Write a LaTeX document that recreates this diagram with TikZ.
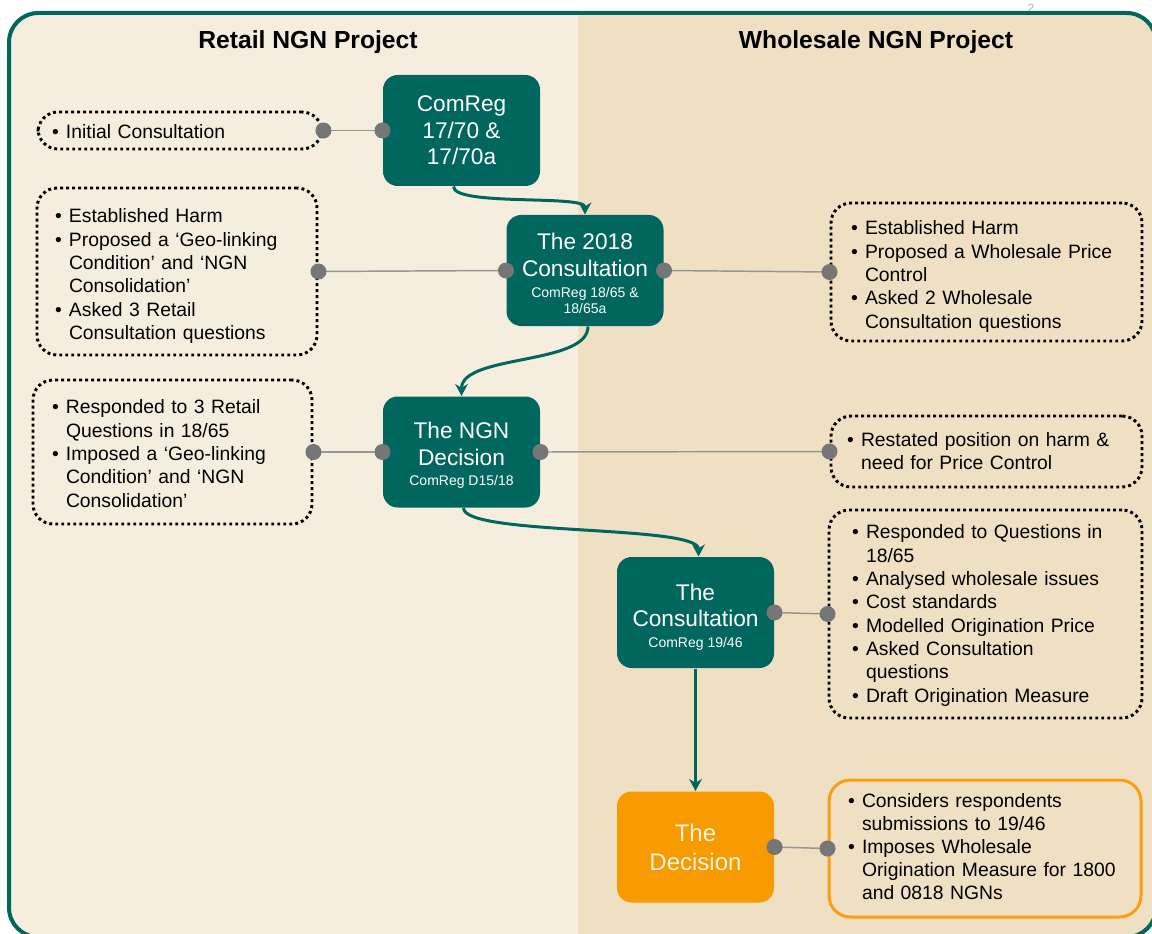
\documentclass[tikz,border=0pt]{standalone}
\usepackage{fontspec}
\setmainfont{Liberation Sans}
\usetikzlibrary{arrows.meta,calc}

\definecolor{comregteal}{RGB}{0,102,94}
\definecolor{decorange}{RGB}{247,155,0}
\definecolor{decwhite}{RGB}{255,243,225}
\definecolor{noteorange}{RGB}{247,160,20}
\definecolor{retailbg}{RGB}{245,238,223}
\definecolor{wholesalebg}{RGB}{239,224,195}
\definecolor{knobgray}{RGB}{118,118,118}
\definecolor{linkgray}{RGB}{150,150,150}

\newcommand{\headfont}{\fontsize{18.5pt}{22pt}\selectfont\bfseries}
\newcommand{\notefont}{\fontsize{14.5pt}{17.5pt}\selectfont}
\newcommand{\bigfont}{\fontsize{17pt}{20pt}\selectfont}
\newcommand{\decfont}{\fontsize{18pt}{21.75pt}\selectfont}
\newcommand{\subfont}{\fontsize{10.5pt}{12.75pt}\selectfont}
\newcommand{\itm}{\par\hangindent=10.5pt\hangafter=1\noindent\makebox[10.5pt][l]{\textbullet}}
\newcommand{\noteend}[1]{\par\kern#1}
\newcommand{\topgap}[1]{\rule{0pt}{#1}}

\tikzset{every picture/.style={line width=0.75pt}}
\tikzset{
  stagebox/.style={fill=comregteal, text=white, rounded corners=11pt, minimum width=117.75pt, minimum height=83.25pt, align=center, inner sep=0pt, font=\bigfont},
  finalbox/.style={stagebox, fill=decorange, text=decwhite, font=\decfont},
  notebox/.style={draw=black, line width=2.2pt, dash pattern=on 2.2pt off 2.3pt, rounded corners=15pt, font=\notefont, align=left, inner ysep=0pt},
  finalnote/.style={notebox, draw=noteorange, line width=2.25pt, solid, rounded corners=16pt},
  link/.style={draw=linkgray, line width=1.1pt},
  knob/.style={fill=knobgray},
  flow/.style={draw=comregteal, line width=2.25pt, -{Stealth[length=9pt,width=9.5pt]}},
  head/.style={font=\headfont},
  pagenum/.style={font=\fontsize{9pt}{10pt}\selectfont, text=gray!60, inner sep=0pt}
}

\begin{document}
\begin{tikzpicture}[x=0.75pt,y=0.75pt,yscale=-1,xscale=1]
\useasboundingbox (0,0) rectangle (1152,934);

% Page number
\node[pagenum] (pgnum) at (1031,8) {2};

%Shape: Backgrounds
\begin{scope}
\clip[rounded corners=22pt] (9,13) rectangle (1156,937);
\fill[retailbg] (0,0) rectangle (578,940);
\fill[wholesalebg] (578,0) rectangle (1160,940);
\end{scope}
%Shape: Frame
\draw[comregteal, line width=3pt, rounded corners=22pt] (9,13) rectangle (1156,937);

% Text Node
\node[head] (retail) at (308,42.5) {Retail NGN Project};
% Text Node
\node[head] (wholesale) at (876,42.5) {Wholesale NGN Project};

%Shape: Stages
\node[stagebox] (cr1770) at (461.5,130.5) {ComReg\\17/70 \&\\17/70a};
\node[stagebox] (cons2018) at (585,270.5) {\topgap{17pt}The 2018\\Consultation\\[-4.5pt]{\subfont ComReg 18/65 \&}\\[-7.5pt]{\subfont 18/65a}};
\node[stagebox] (ngndec) at (461.5,452) {\topgap{17.5pt}The NGN\\Decision\\[-4.5pt]{\subfont ComReg D15/18}};
\node[stagebox] (cons1946) at (695.5,612.5) {\topgap{19pt}The\\Consultation\\[-4.5pt]{\subfont ComReg 19/46}};
\node[finalbox] (decision) at (695.5,847) {The\\Decision};

%Shape: Notes
\node[notebox, text width=192pt, inner xsep=10.5pt, minimum height=27.75pt] (initnote) at (180,130.5) {\itm Initial Consultation\noteend{6pt}};
\node[notebox, text width=183pt, inner xsep=13.5pt, minimum height=125.25pt] (retail2018) at (177,271.5) {\itm Established Harm
\itm Proposed a ‘Geo-linking\newline Condition’ and ‘NGN\newline Consolidation’
\itm Asked 3 Retail\newline Consultation questions\par};
\node[notebox, text width=203.25pt, inner xsep=15pt, minimum height=103.5pt] (whole2018) at (986.5,272) {\itm Established Harm
\itm Proposed a Wholesale Price\newline Control
\itm Asked 2 Wholesale\newline Consultation questions\par};
\node[notebox, text width=180.75pt, inner xsep=14.25pt, minimum height=108pt] (retailngn) at (172.5,452) {\itm Responded to 3 Retail\newline Questions in 18/65
\itm Imposed a ‘Geo-linking\newline Condition’ and ‘NGN\newline Consolidation’\noteend{4.5pt}};
\node[notebox, text width=209.25pt, inner xsep=12pt, minimum height=53.25pt] (wholengn) at (986.5,451.5) {\itm Restated position on harm \&\newline need for Price Control\noteend{7.5pt}};
\node[notebox, text width=200.25pt, inner xsep=17.25pt, minimum height=156pt] (whole1946) at (985.5,614) {\itm Responded to Questions in\newline 18/65
\itm Analysed wholesale issues
\itm Cost standards
\itm Modelled Origination Price
\itm Asked Consultation\newline questions
\itm Draft Origination Measure\noteend{4.5pt}};
\node[finalnote, text width=205.5pt, inner xsep=14.25pt, minimum height=102.75pt, font=\fontsize{14.5pt}{17.25pt}\selectfont] (decnote) at (985,848.5) {\itm Considers respondents\newline submissions to 19/46
\itm Imposes Wholesale\newline Origination Measure for 1800\newline and 0818 NGNs\noteend{9pt}};

%Straight Lines: links
\draw[link] (initnote.east) -- (cr1770.west);
\draw[link] (retail2018.east) -- (cons2018.west);
\draw[link] (cons2018.east) -- (whole2018.west);
\draw[link] (retailngn.east) -- (ngndec.west);
\draw[link] (ngndec.east) -- (wholengn.west);
\draw[link] (cons1946.east) -- (whole1946.west);
\draw[link] (decision.east) -- (decnote.west);

%Shape: Circles
\fill[knob] (initnote.east) circle[radius=6pt] (cr1770.west) circle[radius=6pt];
\fill[knob] (retail2018.east) circle[radius=6pt] (cons2018.west) circle[radius=6pt];
\fill[knob] (cons2018.east) circle[radius=6pt] (whole2018.west) circle[radius=6pt];
\fill[knob] (retailngn.east) circle[radius=6pt] (ngndec.west) circle[radius=6pt];
\fill[knob] (ngndec.east) circle[radius=6pt] (wholengn.west) circle[radius=6pt];
\fill[knob] (cons1946.east) circle[radius=6pt] (whole1946.west) circle[radius=6pt];
\fill[knob] (decision.east) circle[radius=6pt] (decnote.west) circle[radius=6pt];

%Curves: flow
\draw[flow] ($(cr1770.south)+(-8,0)$) .. controls ($(cr1770.south)+(-8,20)$) and ($(cons2018.north)+(0,-20)$) .. (cons2018.north);
\draw[flow] ($(cons2018.south)+(3,0)$) .. controls ($(cons2018.south)+(3,39)$) and ($(ngndec.north)+(0,-42)$) .. (ngndec.north);
\draw[flow] ($(ngndec.south)+(2,0)$) .. controls ($(ngndec.south)+(2,28)$) and ($(cons1946.north)+(3,-32)$) .. ($(cons1946.north)+(3,0)$);
\draw[flow] (cons1946.south) -- (decision.north);

\end{tikzpicture}
\end{document}
